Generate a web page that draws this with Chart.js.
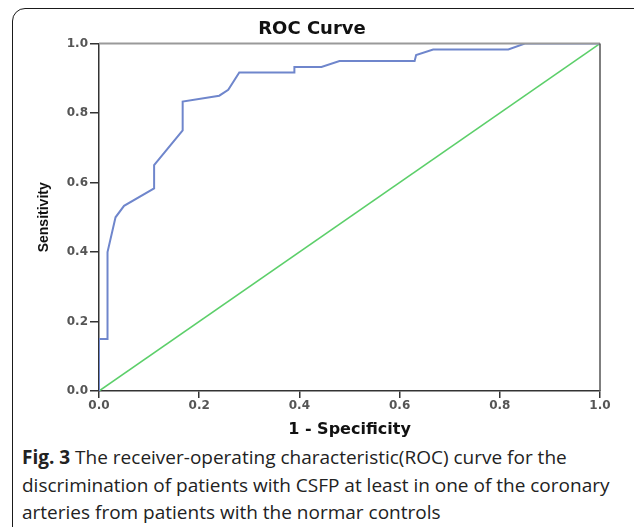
<!DOCTYPE html>
<html lang="en">
<head>
    <meta charset="UTF-8">
    <title>ROC Curve</title>
    <script src="https://cdn.jsdelivr.net/npm/chart.js"></script>
    <style>
        body {
            margin: 0;
            background: #fff;
            width: 634px;
            height: 527px;
            overflow: hidden;
            position: relative;
        }
        .frame {
            position: absolute;
            left: 12px;
            top: 8px;
            width: 640px;
            height: 560px;
            border: 1.5px solid #1a1a1a;
            border-radius: 13px;
        }
        #roc {
            position: absolute;
            left: 0;
            top: 0;
        }
        .caption {
            position: absolute;
            left: 22px;
            top: 444px;
            font-family: 'Open Sans', sans-serif;
            font-size: 19px;
            line-height: 27.5px;
            color: #222;
            white-space: nowrap;
        }
    </style>
</head>
<body>
    <div class="frame"></div>
    <canvas id="roc" width="634" height="440"></canvas>
    <div class="caption"><b>Fig. 3</b> The receiver-operating characteristic(ROC) curve for the<br>discrimination of patients with CSFP at least in one of the coronary<br>arteries from patients with the normar controls</div>

    <script>
        // ROC points
        const fpr = [0, 0, 0.017, 0.017, 0.033, 0.05, 0.11, 0.11, 0.167, 0.167, 0.24, 0.258, 0.28, 0.39, 0.39, 0.444, 0.48, 0.63, 0.633, 0.667, 0.817, 0.85, 1];
        const tpr = [0, 0.15, 0.15, 0.40, 0.50, 0.533, 0.583, 0.65, 0.75, 0.833, 0.85, 0.867, 0.917, 0.917, 0.933, 0.933, 0.95, 0.95, 0.967, 0.983, 0.983, 1, 1];
        const refX = [0, 1];
        const refY = [0, 1];
        const ticks = [0, 0.2, 0.4, 0.6, 0.8, 1.0];

        const toPts = (xs, ys) => xs.map((x, i) => ({ x: x, y: ys[i] }));

        // top and right sides of the plot box
        const boxPlugin = {
            id: 'box',
            afterDraw(chart) {
                const { ctx, chartArea: a } = chart;
                ctx.save();
                ctx.lineWidth = 2;
                ctx.strokeStyle = '#9a9a9a';
                ctx.beginPath();
                ctx.moveTo(a.left, a.top);
                ctx.lineTo(a.right, a.top);
                ctx.stroke();
                ctx.strokeStyle = '#555';
                ctx.lineWidth = 1.5;
                ctx.beginPath();
                ctx.moveTo(a.right, a.top);
                ctx.lineTo(a.right, a.bottom);
                ctx.stroke();
                ctx.restore();
            }
        };

        const tickFont = { family: 'DejaVu Sans', size: 12, weight: 'bold' };

        new Chart(document.getElementById('roc'), {
            type: 'scatter',
            data: {
                datasets: [
                    {
                        data: toPts(fpr, tpr),
                        showLine: true,
                        borderColor: '#6f86cc',
                        borderWidth: 2,
                        pointRadius: 0,
                        tension: 0
                    },
                    {
                        data: toPts(refX, refY),
                        showLine: true,
                        borderColor: '#5ccf6a',
                        borderWidth: 1.6,
                        pointRadius: 0
                    }
                ]
            },
            options: {
                responsive: false,
                animation: false,
                layout: { padding: { left: 0, right: 10, top: 0, bottom: 0 } },
                plugins: {
                    legend: { display: false },
                    tooltip: { enabled: false },
                    title: {
                        display: true,
                        text: 'ROC Curve',
                        color: '#111',
                        font: { family: 'DejaVu Sans', size: 18, weight: 'bold' },
                        padding: { top: 19, bottom: 3 }
                    }
                },
                scales: {
                    x: {
                        type: 'linear',
                        min: 0,
                        max: 1,
                        afterFit: s => { s.height = 49; },
                        afterBuildTicks: s => { s.ticks = ticks.map(v => ({ value: v })); },
                        ticks: {
                            color: '#555',
                            font: tickFont,
                            padding: 1,
                            callback: v => v.toFixed(1)
                        },
                        grid: { drawOnChartArea: false, drawTicks: true, tickLength: 7, color: '#333', lineWidth: 1.5 },
                        border: { display: true, color: '#333', width: 1.5 },
                        title: {
                            display: true,
                            text: '1 - Specificity',
                            color: '#111',
                            font: { family: 'DejaVu Sans', size: 16, weight: 'bold' },
                            padding: { top: 0, bottom: 1 }
                        }
                    },
                    y: {
                        type: 'linear',
                        min: 0,
                        max: 1,
                        afterFit: s => { s.width = 99; },
                        afterBuildTicks: s => { s.ticks = ticks.map(v => ({ value: v })); },
                        ticks: {
                            color: '#555',
                            font: tickFont,
                            padding: 2,
                            callback: v => v.toFixed(1)
                        },
                        grid: { drawOnChartArea: false, drawTicks: true, tickLength: 9, color: '#333', lineWidth: 1.5 },
                        border: { display: true, color: '#333', width: 1.5 },
                        title: {
                            display: true,
                            text: 'Sensitivity',
                            color: '#111',
                            font: { family: 'Liberation Sans', size: 14, weight: 'bold' },
                            padding: { top: 36, bottom: 0 }
                        }
                    },
                    // empty right-hand strip, keeps the title centred like the original
                    yPad: {
                        type: 'linear',
                        position: 'right',
                        afterFit: s => { s.width = 24; },
                        ticks: { display: false },
                        grid: { display: false },
                        border: { display: false }
                    }
                }
            },
            plugins: [boxPlugin]
        });
    </script>
</body>
</html>
